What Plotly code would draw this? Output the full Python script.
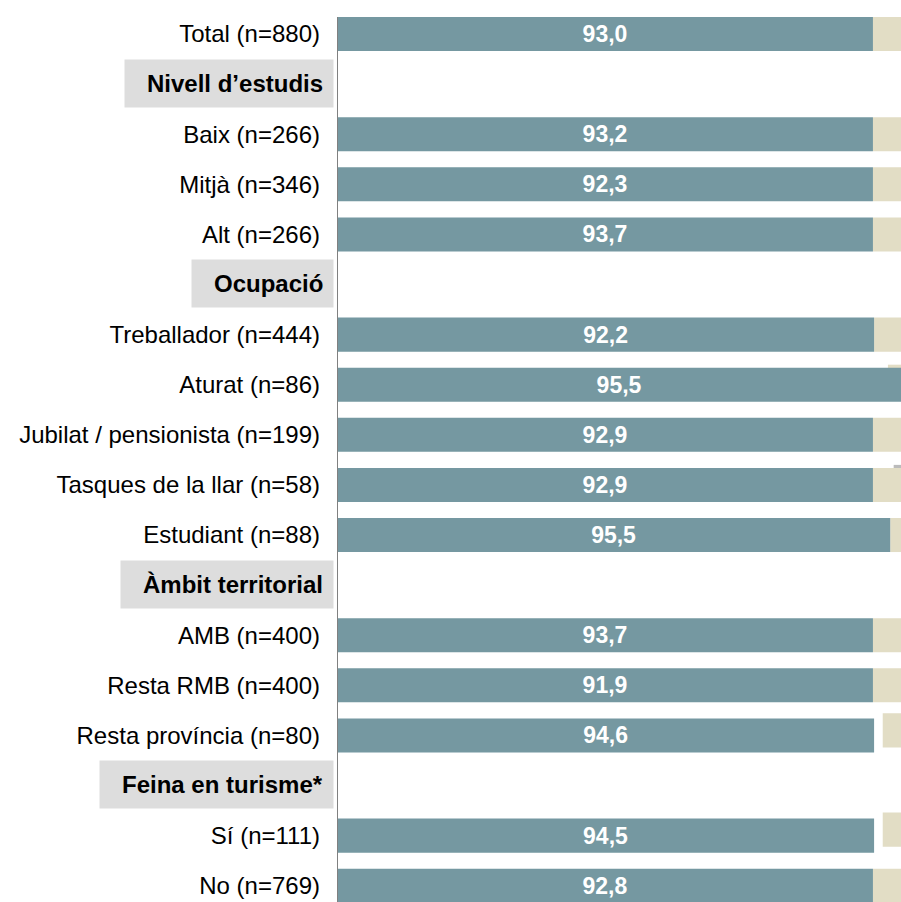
import plotly.graph_objects as go

# ---- data -------------------------------------------------------------
categories = [
    "Total (n=880)", "Nivell d’estudis", "Baix (n=266)", "Mitjà (n=346)", "Alt (n=266)",
    "Ocupació", "Treballador (n=444)", "Aturat (n=86)", "Jubilat / pensionista (n=199)",
    "Tasques de la llar (n=58)", "Estudiant (n=88)", "Àmbit territorial", "AMB (n=400)",
    "Resta RMB (n=400)", "Resta província (n=80)", "Feina en turisme*", "Sí (n=111)", "No (n=769)",
]
headings = ["Nivell d’estudis", "Ocupació", "Àmbit territorial", "Feina en turisme*"]

# printed percentages (None for heading rows)
values = [93.0, None, 93.2, 92.3, 93.7, None, 92.2, 95.5, 92.9, 92.9, 95.5, None,
          93.7, 91.9, 94.6, None, 94.5, 92.8]
# drawn length of the first (teal) segment
teal_len = [93.0, None, 93.0, 93.0, 93.0, None, 93.2, 97.9, 93.0, 93.0, 96.0, None,
            93.0, 93.0, 93.2, None, 93.2, 93.0]
# where the second (beige) segment begins
beige_start = [93.0, None, 93.0, 93.0, 93.0, None, 93.2, 95.6, 93.0, 93.0, 96.0, None,
               93.0, 93.0, 94.7, None, 94.7, 93.0]
# where the third (grey) segment begins (only visible on one row)
grey_start = [None, None, None, None, None, None, None, None, None, 96.6, None, None,
              None, None, None, None, None, None]
TOTAL = 100.0

# ---- styles -----------------------------------------------------------
TEAL = "#7598A1"
BEIGE = "#E2DDC5"
GREY = "#BBBBBB"
HEAD_BG = "#DDDDDD"
FONT = "Liberation Sans, Arial, sans-serif"
BAR_W = 0.68
# small vertical displacement (in rows) of the beige / grey segments on some rows
beige_shift = {"Aturat (n=86)": 0.06, "Resta província (n=80)": 0.10, "Sí (n=111)": 0.12}
grey_shift = {"Tasques de la llar (n=58)": 0.06}

rows = [i for i, c in enumerate(categories) if c not in headings]

fig = go.Figure()

# grey segment (drawn first, underneath)
g_rows = [i for i in rows if grey_start[i] is not None]
fig.add_trace(go.Bar(
    orientation="h",
    y=[categories[i] for i in g_rows],
    base=[grey_start[i] for i in g_rows],
    x=[TOTAL - grey_start[i] for i in g_rows],
    width=BAR_W,
    offset=[-BAR_W / 2 - grey_shift.get(categories[i], 0) for i in g_rows],
    marker=dict(color=GREY, line=dict(width=0)),
    hoverinfo="skip", showlegend=False,
))

# beige segment
fig.add_trace(go.Bar(
    orientation="h",
    y=[categories[i] for i in rows],
    base=[beige_start[i] for i in rows],
    x=[TOTAL - beige_start[i] for i in rows],
    width=BAR_W,
    offset=[-BAR_W / 2 - beige_shift.get(categories[i], 0) for i in rows],
    marker=dict(color=BEIGE, line=dict(width=0)),
    hoverinfo="skip", showlegend=False,
))

# teal segment with the value labels
fig.add_trace(go.Bar(
    orientation="h",
    y=[categories[i] for i in rows],
    base=[0] * len(rows),
    x=[teal_len[i] for i in rows],
    width=BAR_W,
    offset=-BAR_W / 2,
    marker=dict(color=TEAL, line=dict(width=0)),
    text=[f"{values[i]:.1f}".replace(".", ",") for i in rows],
    texttemplate="<b>%{text}</b>",
    textposition="inside",
    insidetextanchor="middle",
    textangle=0,
    constraintext="none",
    textfont=dict(color="white", size=23, family=FONT),
    hoverinfo="skip", showlegend=False,
))

# heading boxes
for h in headings:
    fig.add_annotation(
        x=0, xref="paper", y=h, yref="y",
        xanchor="right", yanchor="middle", xshift=-3, yshift=1,
        text=f"<b>\u2002{h}</b>", showarrow=False,
        bgcolor=HEAD_BG, borderpad=10,
        font=dict(size=24, color="#000000", family=FONT),
    )

# vertical axis line starting at the top of the first bar
fig.add_shape(type="line", xref="x", yref="y", x0=0, x1=0,
              y0=-BAR_W / 2, y1=len(categories) + 1,
              line=dict(color="#808080", width=2), layer="above")

fig.update_layout(
    width=901, height=902,
    margin=dict(l=337, r=0, t=0, b=0, pad=0),
    barmode="overlay",
    paper_bgcolor="white", plot_bgcolor="white",
    font=dict(family=FONT, size=24, color="#000000"),
    xaxis=dict(range=[0, 97.87], visible=False, fixedrange=True),
    yaxis=dict(
        type="category", categoryorder="array", categoryarray=categories,
        range=[17.325, -0.679],
        tickvals=[categories[i] for i in rows],
        ticktext=[categories[i] for i in rows],
        ticks="", showline=False, showgrid=False, zeroline=False,
        ticklabelstandoff=16,
        tickfont=dict(size=24, color="#000000", family=FONT),
        fixedrange=True,
    ),
)

fig.write_html("out.html", config={"displayModeBar": False},
               post_script="document.body.style.margin='0';")
